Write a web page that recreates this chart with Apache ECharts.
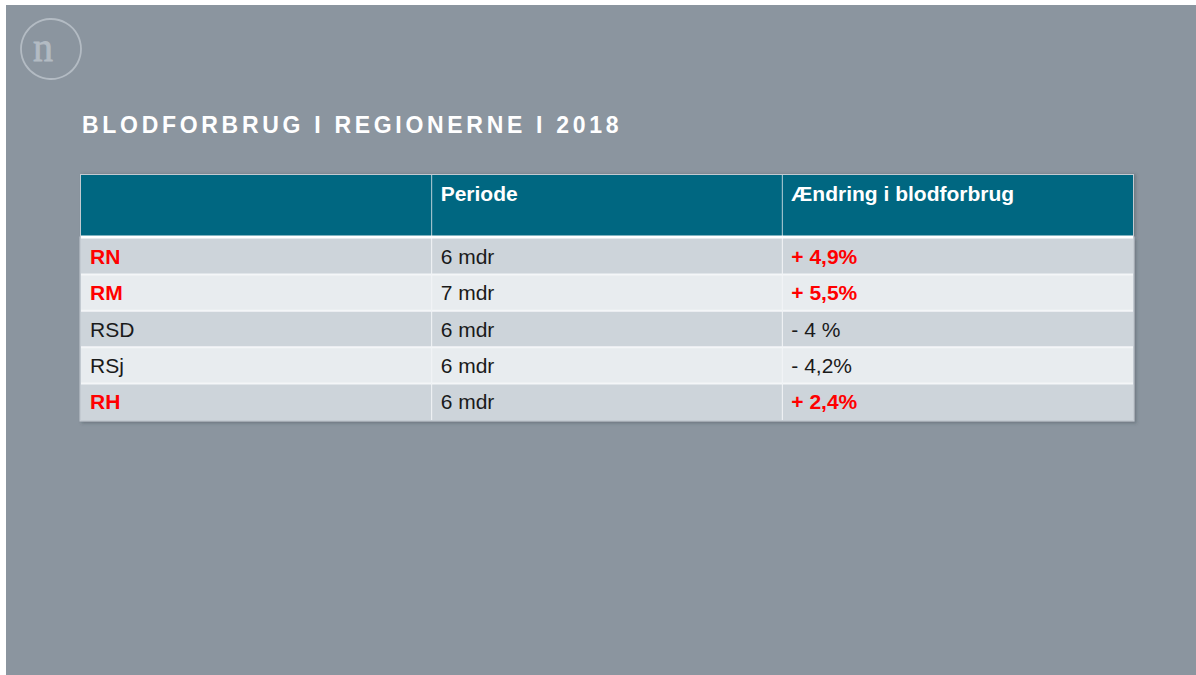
<!DOCTYPE html>
<html>
<head>
<meta charset="utf-8">
<script src="https://cdn.jsdelivr.net/npm/echarts@6/dist/echarts.min.js"></script>
<style>
  html, body { margin: 0; padding: 0; background: #8b959f; width: 1196px; height: 675px; overflow: hidden; }
  #topStrip { position: absolute; left: 0; top: 0; width: 1196px; height: 5px; background: #ffffff; }
  #leftStrip { position: absolute; left: 0; top: 0; width: 6px; height: 675px; background: #ffffff; }
  #chart { position: absolute; left: 6px; top: 5px; width: 1190px; height: 670px; }
  #chart svg text[style*="23px"] { letter-spacing: 3.7px; }
</style>
</head>
<body>
<div id="topStrip"></div>
<div id="leftStrip"></div>
<div id="chart"></div>
<script>
// ---- data ----
const titleText = 'BLODFORBRUG I REGIONERNE I 2018';
const headers = ['', 'Periode', 'Ændring i blodforbrug'];
const regions = ['RN', 'RM', 'RSD', 'RSj', 'RH'];
const periods = ['6 mdr', '7 mdr', '6 mdr', '6 mdr', '6 mdr'];
const changes = ['+ 4,9%', '+ 5,5%', '- 4 %', '- 4,2%', '+ 2,4%'];
const highlighted = [true, true, false, false, true];
const columns = ['c0', 'c1', 'c2'];

// ---- styling ----
const BG = '#8b959f';
const HEAD = '#006781';
const ROW_A = '#cdd4da';
const ROW_B = '#e8ecef';
const RED = '#ff0000';
const DARK = '#1a1a1a';
const FONT = 'Arial, "Liberation Sans", sans-serif';

const headerData = headers.map((h, c) => [c, 0]);
const bodyData = [];
regions.forEach((r, ri) => { columns.forEach((col, ci) => bodyData.push([ci, ri])); });

function cellText(ci, ri) {
  if (ci === 0) return regions[ri];
  if (ci === 1) return periods[ri];
  return changes[ri];
}

const chart = echarts.init(document.getElementById('chart'), null, { renderer: 'svg' });

chart.setOption({
  backgroundColor: BG,
  animation: false,
  title: {
    text: titleText,
    left: 76, top: 108, padding: 0,
    textStyle: { color: '#ffffff', fontSize: 23, fontWeight: 'bold', fontFamily: '"Liberation Sans", Arial, sans-serif' }
  },
  graphic: [
    { type: 'circle', shape: { cx: 45, cy: 44, r: 30 }, style: { fill: 'none', stroke: '#b3bbc3', lineWidth: 1.8 } },
    { type: 'text', x: 37, y: 42, style: { text: 'n', fill: '#b3bbc3', stroke: '#b3bbc3', lineWidth: 0.8, font: '40px "Liberation Serif", "DejaVu Serif", serif', textAlign: 'center', textVerticalAlign: 'middle' } }
  ],
  grid: [
    { left: 75, top: 170, width: 1052, height: 61, show: true, backgroundColor: HEAD, borderColor: '#c3cad1', borderWidth: 2, shadowColor: 'rgba(60,70,80,0.35)', shadowBlur: 3, shadowOffsetX: 2, shadowOffsetY: 0 },
    { left: 75, top: 233, width: 1052, height: 182, show: true, backgroundColor: ROW_A, borderColor: '#c3cad1', borderWidth: 3, shadowColor: 'rgba(60,70,80,0.35)', shadowBlur: 3, shadowOffsetX: 2, shadowOffsetY: 2 }
  ],
  xAxis: [
    { type: 'category', gridIndex: 0, data: columns, show: false },
    { type: 'category', gridIndex: 1, data: columns, show: false }
  ],
  yAxis: [
    { type: 'category', gridIndex: 0, data: ['h'], show: false },
    { type: 'category', gridIndex: 1, data: regions, inverse: true, show: false }
  ],
  series: [
    {
      type: 'custom', xAxisIndex: 0, yAxisIndex: 0, data: headerData, silent: true,
      renderItem: function (params, api) {
        const c = api.value(0), r = api.value(1);
        const p = api.coord([c, r]);
        const s = api.size([1, 1]);
        const x0 = p[0] - s[0] / 2, y0 = p[1] - s[1] / 2;
        const children = [
          { type: 'rect', shape: { x: x0, y: y0, width: s[0], height: s[1] }, style: { fill: HEAD } }
        ];
        if (c > 0) {
          children.push({ type: 'line', shape: { x1: x0, y1: y0, x2: x0, y2: y0 + s[1] }, style: { stroke: '#b9d0d8', lineWidth: 1 } });
        }
        children.push({ type: 'text', x: x0 + 9, y: y0 + 18, style: { text: headers[c], fill: '#ffffff', font: 'bold 21px ' + FONT, textAlign: 'left', textVerticalAlign: 'middle' } });
        return { type: 'group', children: children };
      }
    },
    {
      type: 'custom', xAxisIndex: 1, yAxisIndex: 1, data: bodyData, silent: true,
      renderItem: function (params, api) {
        const c = api.value(0), r = api.value(1);
        const p = api.coord([c, r]);
        const s = api.size([1, 1]);
        const x0 = p[0] - s[0] / 2, y0 = p[1] - s[1] / 2;
        const children = [
          { type: 'rect', shape: { x: x0, y: y0, width: s[0], height: s[1] }, style: { fill: r % 2 === 0 ? ROW_A : ROW_B } }
        ];
        if (r > 0) {
          children.push({ type: 'line', shape: { x1: x0, y1: y0, x2: x0 + s[0], y2: y0 }, style: { stroke: '#f4f6f8', lineWidth: 2 } });
        }
        if (c > 0) {
          children.push({ type: 'line', shape: { x1: x0, y1: y0, x2: x0, y2: y0 + s[1] }, style: { stroke: '#f4f6f8', lineWidth: 1 } });
        }
        const hot = highlighted[r] && c !== 1;
        children.push({ type: 'text', x: x0 + 9, y: p[1], style: { text: cellText(c, r), fill: hot ? RED : DARK, font: (hot ? 'bold ' : '') + '21px ' + FONT, textAlign: 'left', textVerticalAlign: 'middle' } });
        return { type: 'group', children: children };
      }
    },
    {
      // white separator line between header and body
      type: 'custom', xAxisIndex: 1, yAxisIndex: 1, data: [[0, 0]], silent: true, z: 5,
      renderItem: function (params, api) {
        const p = api.coord([0, 0]);
        const s = api.size([1, 1]);
        const y0 = p[1] - s[1] / 2;
        const x0 = p[0] - s[0] / 2;
        return { type: 'line', shape: { x1: x0, y1: y0 - 1, x2: x0 + s[0] * 3, y2: y0 - 1 }, style: { stroke: '#ffffff', lineWidth: 3 } };
      }
    }
  ]
});
</script>
</body>
</html>
